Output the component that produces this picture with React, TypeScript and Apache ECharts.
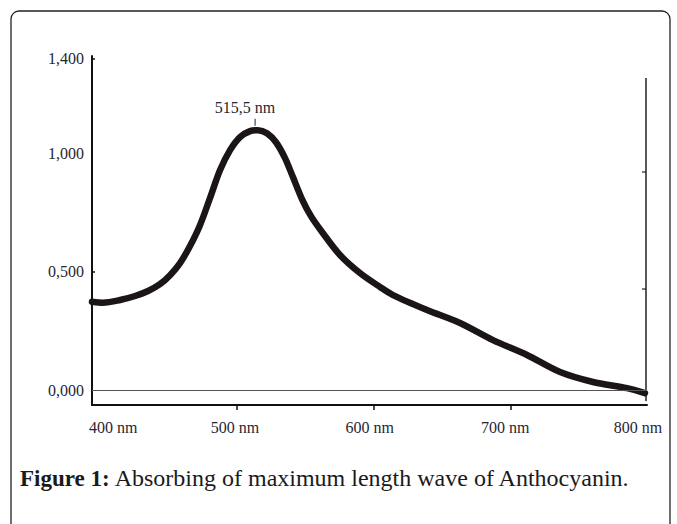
import React, { useEffect, useRef } from 'react';
import * as echarts from 'echarts';

// Absorbance spectrum of anthocyanin
const wavelengths = [
  394, 402, 414.5, 425.5, 435, 443.7, 451.1, 458.4, 465.7, 473, 480.3, 487.6, 495, 502.3,
  509.6, 515.5, 522, 528.6, 535.2, 541, 547.6, 554.2, 562.3, 575.4, 590, 604.7, 614.2, 639.1,
  663.2, 687.3, 712.2, 736.4, 760.5, 785.4, 798.5,
];
const absorbance = [
  0.373, 0.369, 0.38, 0.397, 0.418, 0.447, 0.485, 0.536, 0.608, 0.696, 0.81, 0.928, 1.013,
  1.068, 1.093, 1.097, 1.084, 1.046, 0.979, 0.899, 0.806, 0.734, 0.667, 0.57, 0.494, 0.435,
  0.401, 0.338, 0.283, 0.211, 0.148, 0.076, 0.034, 0.008, -0.013,
];
const peakWavelength = 515.5;
const peakAbsorbance = 1.097;
const peakLabel = '515,5 nm';

const xTickValues = [400, 500, 600, 700, 800];
const xTickLabels = ['400 nm', '500 nm', '600 nm', '700 nm', '800 nm'];
const xMarkValues = [500, 600, 700];
const yTickValues = [0, 0.5, 1, 1.4];
const yTickLabels = ['0,000', '0,500', '1,000', '1,400'];
const yMarkValues = [0.5, 1.4];

const captionBold = 'Figure 1:';
const captionText = 'Absorbing of maximum length wave of Anthocyanin.';

// layout / style
const xLabelNudge = [13, -2, -4, -5, -9];
const SERIF = '"Liberation Serif", "Times New Roman", serif';
const LABEL_COLOR = '#1f2733';
const LABEL_SIZE = 16;

export default function App() {
  const ref = useRef<HTMLDivElement>(null);

  useEffect(() => {
    if (!ref.current) return;
    const chart = echarts.init(ref.current, null, { renderer: 'svg' });

    const rich: Record<string, any> = {};
    xLabelNudge.forEach((n, i) => {
      rich['s' + i] = {
        fontFamily: SERIF,
        fontSize: LABEL_SIZE,
        color: LABEL_COLOR,
        padding: n >= 0 ? [0, 0, 0, 2 * n] : [0, -2 * n, 0, 0],
      };
    });

    chart.setOption({
      animation: false,
      backgroundColor: '#ffffff',
      title: {
        text: `{b|${captionBold}} {n|${captionText}}`,
        left: 20,
        top: 466,
        padding: 0,
        textStyle: {
          rich: {
            b: { fontFamily: SERIF, fontSize: 23, fontWeight: 'bold', color: '#1a1a1a' },
            n: { fontFamily: SERIF, fontSize: 24, fontWeight: 'normal', color: '#1a1a1a' },
          },
        },
      },
      grid: { left: 92, right: 30, top: 56, bottom: 119 },
      xAxis: {
        type: 'value',
        min: 394,
        max: 800,
        axisLine: { show: true, onZero: false, lineStyle: { color: '#111', width: 2 } },
        axisTick: {
          show: true,
          customValues: xMarkValues,
          inside: false,
          length: 5,
          lineStyle: { color: '#111', width: 1.5 },
        },
        splitLine: { show: false },
        axisLabel: {
          customValues: xTickValues,
          margin: 14,
          fontFamily: SERIF,
          fontSize: LABEL_SIZE,
          color: LABEL_COLOR,
          formatter: (v: number) => {
            const i = xTickValues.indexOf(v);
            return `{s${i}|${xTickLabels[i]}}`;
          },
          rich,
        },
      },
      yAxis: {
        type: 'value',
        min: -0.063,
        max: 1.41,
        axisLine: { show: true, onZero: false, lineStyle: { color: '#111', width: 2 } },
        axisTick: {
          show: true,
          customValues: yMarkValues,
          inside: true,
          length: 3,
          lineStyle: { color: '#111', width: 1.5 },
        },
        splitLine: { show: false },
        axisLabel: {
          customValues: yTickValues,
          margin: 8,
          fontFamily: SERIF,
          fontSize: LABEL_SIZE,
          color: LABEL_COLOR,
          formatter: (v: number) => yTickLabels[yTickValues.indexOf(v)] ?? '',
        },
      },
      series: [
        {
          type: 'line',
          data: wavelengths.map((w, i) => [w, absorbance[i]]),
          smooth: 0.3,
          showSymbol: false,
          symbol: 'none',
          lineStyle: { color: '#1c1515', width: 6.5, cap: 'round', join: 'round' },
          markLine: {
            silent: true,
            symbol: 'none',
            label: { show: false },
            lineStyle: { color: '#555', width: 1, type: 'solid' },
            data: [{ yAxis: 0 }],
          },
          markPoint: {
            silent: true,
            symbol: 'rect',
            symbolSize: [1, 7],
            symbolOffset: [-3, -8],
            itemStyle: { color: '#222' },
            label: {
              show: true,
              formatter: peakLabel,
              position: 'top',
              distance: 3,
              offset: [-10, 0],
              fontFamily: SERIF,
              fontSize: LABEL_SIZE,
              color: LABEL_COLOR,
            },
            data: [{ coord: [peakWavelength, peakAbsorbance] }],
          },
        },
      ],
      graphic: [
        {
          type: 'rect',
          silent: true,
          shape: { x: 11, y: 11, width: 659, height: 560, r: 8 },
          style: { fill: 'none', stroke: '#222', lineWidth: 1.3 },
        },
        {
          type: 'line',
          silent: true,
          shape: { x1: 646, y1: 78, x2: 646, y2: 401 },
          style: { stroke: '#222', lineWidth: 1.5 },
        },
        {
          type: 'line',
          silent: true,
          shape: { x1: 642, y1: 172, x2: 646, y2: 172 },
          style: { stroke: '#222', lineWidth: 1.2 },
        },
        {
          type: 'line',
          silent: true,
          shape: { x1: 642, y1: 289, x2: 646, y2: 289 },
          style: { stroke: '#222', lineWidth: 1.2 },
        },
      ],
    });

    return () => chart.dispose();
  }, []);

  return (
    <div
      ref={ref}
      style={{ position: 'absolute', left: 0, top: 0, width: 677, height: 524, background: '#fff' }}
    />
  );
}
